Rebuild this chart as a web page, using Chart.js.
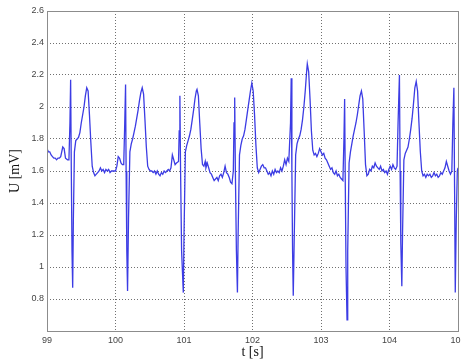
<!DOCTYPE html>
<html>
<head>
<meta charset="utf-8">
<script src="https://cdn.jsdelivr.net/npm/chart.js@4/dist/chart.umd.min.js"></script>
<style>
  html, body { margin: 0; padding: 0; background: #fff; overflow: hidden; }
  #wrap { width: 461px; height: 363px; overflow: hidden; }
</style>
</head>
<body>
<div id="wrap"><canvas id="ecg" width="480" height="363"></canvas></div>
<script>
// time axis [s] and voltage [mV]
var tSec = [
  99.00, 99.02, 99.04, 99.06, 99.08, 99.10, 99.12, 99.14, 99.16, 99.18, 99.20, 99.23, 99.25, 99.27, 99.30, 99.32,
  99.335, 99.345, 99.355, 99.365, 99.375, 99.385, 99.40, 99.42, 99.44, 99.46, 99.48, 99.50, 99.52, 99.54, 99.56, 99.58,
  99.60, 99.62, 99.64, 99.66, 99.68, 99.70, 99.72, 99.74, 99.76, 99.78, 99.80, 99.82, 99.84, 99.86, 99.88, 99.90,
  99.92, 99.94, 99.96, 99.98, 100.00, 100.02, 100.04, 100.06, 100.08, 100.10, 100.12,
  100.135, 100.147, 100.155, 100.165, 100.176, 100.19, 100.21, 100.23, 100.25, 100.27, 100.29, 100.31, 100.33, 100.35, 100.37, 100.39,
  100.41, 100.43, 100.45, 100.47, 100.49, 100.51, 100.53, 100.55, 100.57, 100.59, 100.61, 100.63, 100.65, 100.67, 100.69, 100.71,
  100.73, 100.75, 100.77, 100.79, 100.81, 100.83, 100.85, 100.87, 100.89, 100.92,
  100.93, 100.94, 100.95, 100.965, 100.99, 101.00, 101.02, 101.04, 101.06, 101.08, 101.10, 101.12, 101.14, 101.16, 101.18, 101.19,
  101.21, 101.23, 101.25, 101.27, 101.29, 101.31, 101.32, 101.34, 101.36, 101.38, 101.40, 101.42, 101.44, 101.46, 101.48, 101.50,
  101.52, 101.54, 101.56, 101.58, 101.60, 101.62, 101.64, 101.66, 101.68, 101.70, 101.72,
  101.73, 101.74, 101.75, 101.765, 101.78, 101.79, 101.81, 101.83, 101.85, 101.87, 101.89, 101.91, 101.93, 101.95, 101.97, 101.99,
  102.01, 102.03, 102.05, 102.07, 102.09, 102.11, 102.13, 102.15, 102.17, 102.19, 102.21, 102.23, 102.25, 102.27, 102.29, 102.31,
  102.33, 102.35, 102.37, 102.39, 102.41, 102.43, 102.45, 102.47, 102.49, 102.51, 102.53,
  102.555, 102.565, 102.575, 102.585, 102.595, 102.61, 102.63, 102.65, 102.67, 102.69, 102.71, 102.73, 102.75, 102.77, 102.79, 102.80,
  102.82, 102.84, 102.86, 102.88, 102.90, 102.92, 102.94, 102.96, 102.98, 103.00, 103.02, 103.04, 103.06, 103.08, 103.10, 103.12,
  103.14, 103.16, 103.18, 103.20, 103.22, 103.24, 103.26, 103.28, 103.30, 103.32,
  103.335, 103.345, 103.355, 103.365, 103.38, 103.39, 103.41, 103.43, 103.45, 103.47, 103.49, 103.51, 103.53, 103.55, 103.57, 103.59,
  103.61, 103.63, 103.65, 103.67, 103.69, 103.71, 103.73, 103.75, 103.77, 103.79, 103.81, 103.83, 103.85, 103.87, 103.89, 103.91,
  103.93, 103.95, 103.97, 103.99, 104.01, 104.03, 104.05, 104.07, 104.09, 104.11,
  104.125, 104.145, 104.155, 104.165, 104.18, 104.19, 104.21, 104.23, 104.25, 104.27, 104.29, 104.31, 104.33, 104.35, 104.37, 104.39,
  104.41, 104.43, 104.45, 104.47, 104.49, 104.51, 104.53, 104.55, 104.57, 104.59, 104.61, 104.63, 104.65, 104.67, 104.69, 104.71,
  104.73, 104.75, 104.77, 104.79, 104.81, 104.83, 104.85, 104.87, 104.89, 104.91,
  104.925, 104.94, 104.95, 104.96, 104.975, 104.99, 105.00
];
var uMv = [
  1.74, 1.72, 1.72, 1.70, 1.69, 1.68, 1.68, 1.67, 1.68, 1.68, 1.69, 1.75, 1.74, 1.68, 1.67, 1.67,
  1.90, 2.17, 1.60, 1.10, 0.87, 1.30, 1.72, 1.79, 1.80, 1.81, 1.84, 1.90, 1.95, 2.00, 2.07, 2.12,
  2.10, 1.95, 1.78, 1.63, 1.59, 1.57, 1.58, 1.59, 1.60, 1.62, 1.60, 1.61, 1.59, 1.61, 1.60, 1.61,
  1.59, 1.60, 1.60, 1.60, 1.60, 1.63, 1.69, 1.68, 1.65, 1.64, 1.64,
  1.90, 2.14, 1.60, 1.10, 0.85, 1.30, 1.72, 1.77, 1.80, 1.84, 1.88, 1.93, 1.98, 2.04, 2.09, 2.12,
  2.08, 1.92, 1.75, 1.63, 1.61, 1.60, 1.60, 1.59, 1.60, 1.58, 1.60, 1.58, 1.57, 1.59, 1.58, 1.60,
  1.59, 1.60, 1.61, 1.60, 1.62, 1.70, 1.67, 1.64, 1.65, 1.66,
  1.85, 2.07, 1.60, 1.10, 0.84, 1.20, 1.72, 1.76, 1.79, 1.82, 1.86, 1.92, 1.98, 2.05, 2.10, 2.11,
  2.07, 1.90, 1.74, 1.64, 1.63, 1.66, 1.62, 1.65, 1.62, 1.59, 1.58, 1.56, 1.54, 1.55, 1.56, 1.54,
  1.57, 1.58, 1.56, 1.59, 1.63, 1.59, 1.58, 1.56, 1.53, 1.52, 1.60,
  1.90, 2.06, 1.60, 1.10, 0.84, 1.20, 1.70, 1.76, 1.80, 1.82, 1.86, 1.92, 1.98, 2.04, 2.10, 2.15,
  2.10, 1.95, 1.76, 1.62, 1.59, 1.61, 1.63, 1.64, 1.62, 1.62, 1.60, 1.58, 1.59, 1.57, 1.60, 1.58,
  1.61, 1.59, 1.60, 1.59, 1.62, 1.60, 1.63, 1.67, 1.64, 1.68, 1.66,
  1.90, 2.18, 1.60, 1.10, 0.82, 1.20, 1.70, 1.77, 1.80, 1.82, 1.86, 1.92, 2.00, 2.10, 2.22, 2.27,
  2.22, 2.05, 1.85, 1.73, 1.70, 1.71, 1.69, 1.71, 1.74, 1.72, 1.70, 1.71, 1.68, 1.67, 1.65, 1.63,
  1.61, 1.62, 1.59, 1.58, 1.60, 1.57, 1.58, 1.56, 1.55, 1.54,
  1.80, 2.05, 1.50, 1.00, 0.67, 1.10, 1.65, 1.72, 1.77, 1.82, 1.86, 1.90, 1.95, 2.01, 2.07, 2.10,
  2.05, 1.85, 1.64, 1.57, 1.58, 1.61, 1.60, 1.63, 1.62, 1.65, 1.63, 1.62, 1.61, 1.63, 1.60, 1.61,
  1.59, 1.60, 1.58, 1.61, 1.63, 1.61, 1.64, 1.62, 1.61, 1.63,
  1.90, 2.20, 1.60, 1.15, 0.88, 1.20, 1.67, 1.71, 1.73, 1.75, 1.80, 1.86, 1.93, 2.02, 2.12, 2.16,
  2.10, 1.90, 1.72, 1.60, 1.57, 1.58, 1.56, 1.58, 1.57, 1.58, 1.56, 1.57, 1.59, 1.57, 1.58, 1.56,
  1.57, 1.59, 1.58, 1.60, 1.62, 1.66, 1.63, 1.60, 1.58, 1.60,
  1.90, 2.12, 1.50, 0.84, 1.30, 1.60, 1.62
];
var xTicks = [99, 100, 101, 102, 103, 104, 105];
var yTicks = [0.8, 1, 1.2, 1.4, 1.6, 1.8, 2, 2.2, 2.4, 2.6];
var xTitle = "t [s]";
var yTitle = "U [mV]";

var points = tSec.map(function (t, i) { return { x: t, y: uMv[i] }; });

// matlab style box round the plot area
var boxPlugin = {
    id: "box",
    afterDraw: function (chart) {
        var a = chart.chartArea;
        var ctx = chart.ctx;
        ctx.save();
        ctx.strokeStyle = "#8c8c8c";
        ctx.lineWidth = 1;
        ctx.strokeRect(Math.round(a.left) + 0.5, Math.round(a.top) + 0.5,
            Math.round(a.right - a.left), Math.round(a.bottom - a.top));
        ctx.restore();
    }
};

var tickFont = { family: "Liberation Sans", size: 9 };
var titleFont = { family: "Liberation Serif", size: 14 };

var chart = new Chart("ecg", {
    type: "line",
    data: {
        datasets: [{
            data: points,
            borderColor: "rgb(60,60,228)",
            borderWidth: 1.3,
            pointRadius: 0,
            tension: 0,
            fill: false
        }]
    },
    plugins: [boxPlugin],
    options: {
        responsive: false,
        animation: false,
        layout: { padding: { top: 11, right: 22, bottom: 0, left: 0 } },
        plugins: {
            legend: { display: false },
            tooltip: { enabled: false }
        },
        scales: {
            x: {
                type: "linear",
                min: 99,
                max: 105,
                afterBuildTicks: function (s) { s.ticks = xTicks.map(function (v) { return { value: v }; }); },
                afterFit: function (s) { s.height = 32; },
                ticks: { font: tickFont, color: "#444", padding: 4, maxRotation: 0,
                    callback: function (v) { return String(v); } },
                grid: { color: "#707070", drawTicks: false },
                border: { display: false, dash: [1, 2] },
                title: { display: true, text: xTitle, font: titleFont, color: "#111", padding: { top: 0, bottom: 2 } }
            },
            y: {
                min: 0.6,
                max: 2.6,
                afterBuildTicks: function (s) { s.ticks = yTicks.map(function (v) { return { value: v }; }); },
                afterFit: function (s) { s.width = 47; },
                ticks: { font: tickFont, color: "#444", padding: 3,
                    callback: function (v) { return String(Math.round(v * 10) / 10); } },
                grid: { color: "#707070", drawTicks: false },
                border: { display: false, dash: [1, 2] },
                title: { display: true, text: yTitle, font: titleFont, color: "#111", padding: { top: 7, bottom: 0 } }
            }
        }
    }
});
</script>
</body>
</html>
